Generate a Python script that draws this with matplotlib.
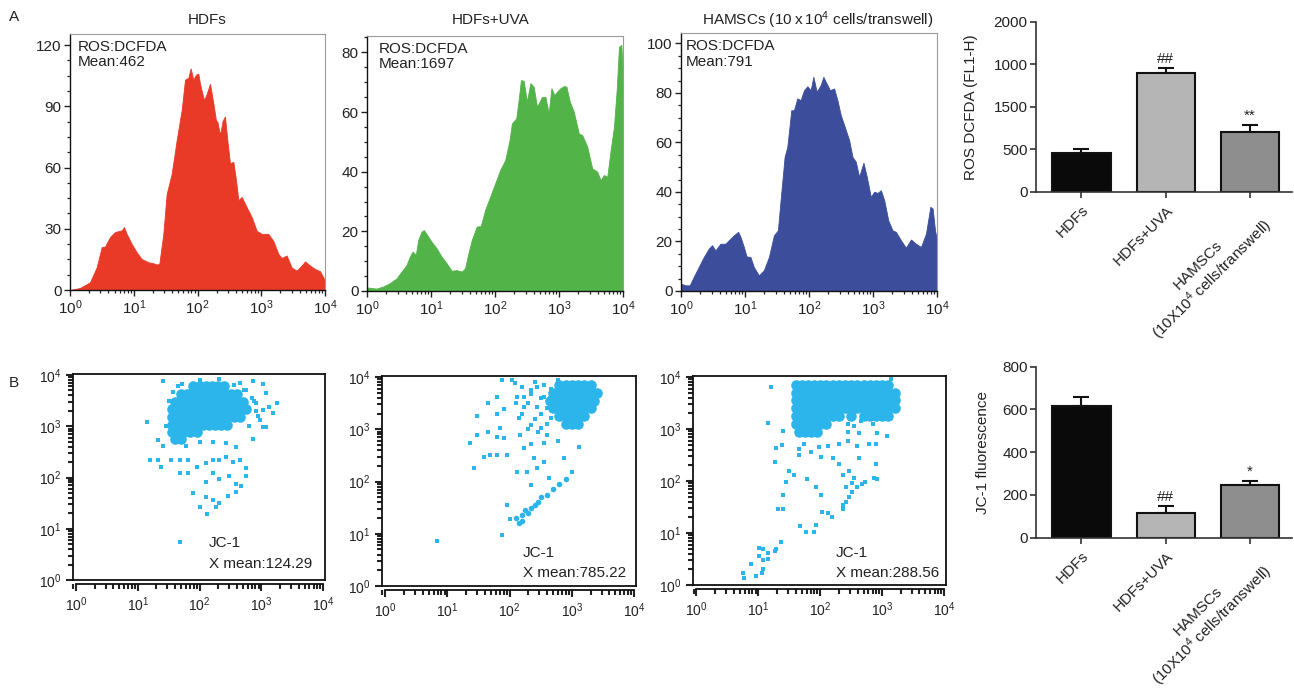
import numpy as np
import matplotlib
matplotlib.use('Agg')
import matplotlib.pyplot as plt
from matplotlib.ticker import (LogLocator, LogFormatterSciNotation, MultipleLocator,
                               NullFormatter, FixedLocator, FixedFormatter)

plt.rcParams['font.family'] = ['Liberation Sans', 'DejaVu Sans']
plt.rcParams['mathtext.fontset'] = 'custom'
plt.rcParams['mathtext.rm'] = 'Liberation Sans'
plt.rcParams['mathtext.it'] = 'Liberation Sans:italic'
plt.rcParams['mathtext.bf'] = 'Liberation Sans:bold'
plt.rcParams['text.color'] = '#222222'
plt.rcParams['xtick.color'] = '#222222'
plt.rcParams['ytick.color'] = '#222222'

# ---------------- DATA ----------------
# Panel A histograms: log10 fluorescence (decades) vs cell count
hdfs_log = [0.0, 0.157, 0.314, 0.418, 0.497, 0.549, 0.627, 0.706, 0.810, 0.847, 0.889, 0.967,
            1.046, 1.124, 1.229, 1.307, 1.359, 1.401, 1.464, 1.516, 1.595, 1.673, 1.752, 1.804,
            1.856, 1.893, 1.935, 1.976, 2.013, 2.039, 2.102, 2.144, 2.196, 2.248, 2.290, 2.311,
            2.353, 2.395, 2.431, 2.468, 2.510, 2.562, 2.604, 2.641, 2.693, 2.771, 2.850, 2.928,
            3.007, 3.111, 3.190, 3.268, 3.320, 3.399, 3.477, 3.556, 3.634, 3.686, 3.765, 3.843,
            3.922, 4.0]
hdfs_cnt = [0, 1.0, 3.8, 11.1, 21.0, 21.3, 25.9, 28.4, 29.2, 30.8, 27.5, 22.6,
            18.5, 15.2, 13.6, 13.1, 12.5, 12.8, 27.5, 47.0, 56.9, 73.4, 88.2, 103,
            104, 108.5, 103, 105.5, 106, 101, 93, 96, 101, 91.5, 83, 82.5,
            76, 83, 85, 73.4, 62, 62.8, 53.8, 44, 45.6, 40.6, 35.7, 29,
            27.5, 27.5, 24, 17.7, 15.7, 16.9, 11, 9.5, 12, 14, 12, 10.3,
            9.2, 4.6]

uva_log = [0.0, 0.146, 0.251, 0.356, 0.460, 0.539, 0.617, 0.669, 0.711, 0.763, 0.800, 0.852,
           0.889, 0.931, 1.009, 1.088, 1.166, 1.244, 1.323, 1.401, 1.480, 1.532, 1.584, 1.637,
           1.715, 1.778, 1.846, 1.924, 2.003, 2.081, 2.159, 2.227, 2.264, 2.332, 2.369, 2.405,
           2.447, 2.499, 2.552, 2.604, 2.656, 2.735, 2.787, 2.839, 2.881, 2.928, 2.970, 3.022,
           3.075, 3.116, 3.169, 3.231, 3.310, 3.362, 3.441, 3.519, 3.597, 3.650, 3.702, 3.754,
           3.807, 3.859, 3.901, 3.937, 3.974, 4.0]
uva_cnt = [1.2, 0.8, 1.5, 2.6, 4.2, 6.5, 8.7, 11.5, 13.2, 12.1, 17.1, 19.9,
           20.4, 19.1, 16.5, 14.3, 11.5, 9.3, 6.8, 7.0, 6.5, 7.6, 12.6, 17.1,
           21.6, 21.8, 27.2, 31.6, 36.1, 40.6, 43.9, 50.6, 56.2, 57.9, 64, 70.7,
           70.5, 63.5, 69.7, 68.5, 61.8, 65.1, 65.1, 59.6, 68, 65.7, 66.8, 68,
           68.7, 68.5, 63.5, 60.1, 52.8, 52.3, 48.4, 41.1, 40, 37.2, 38.9, 38.3,
           47.3, 55.1, 67.4, 81.9, 82.5, 71.8]

hamsc_log = [0.0, 0.068, 0.136, 0.198, 0.277, 0.355, 0.433, 0.486, 0.538, 0.616, 0.695, 0.747,
             0.825, 0.893, 0.930, 0.982, 1.023, 1.086, 1.138, 1.217, 1.295, 1.373, 1.452, 1.514,
             1.556, 1.619, 1.661, 1.723, 1.765, 1.817, 1.869, 1.922, 1.974, 2.026, 2.068, 2.120,
             2.183, 2.225, 2.261, 2.329, 2.392, 2.444, 2.496, 2.559, 2.627, 2.679, 2.731, 2.783,
             2.851, 2.903, 2.966, 3.018, 3.070, 3.123, 3.175, 3.238, 3.305, 3.358, 3.436, 3.514,
             3.593, 3.671, 3.749, 3.828, 3.896, 3.932, 3.969, 4.0]
hamsc_cnt = [3.0, 2.3, 2.3, 5.7, 9.7, 13.7, 17.1, 18.5, 16.4, 19.1, 19.1, 20.5,
             22.5, 23.9, 21.8, 17.8, 14.0, 13.7, 9.7, 6.3, 8.4, 13.7, 22.5, 24.5,
             36.7, 54.2, 58.2, 73, 73, 77.8, 77.1, 81.1, 82.7, 81.1, 86.5, 80.5,
             83.2, 86.5, 84.5, 81.1, 81.8, 77.1, 71, 66.3, 60.9, 54.2, 52.2, 46.1,
             51.8, 46.1, 38, 40.1, 39.6, 40.7, 36.7, 28.6, 24.5, 23.9, 20.5, 17.5,
             20.8, 19.1, 17.8, 23.2, 34, 33.3, 24.5, 20.5]

hist_titles = ['HDFs', 'HDFs+UVA', 'HAMSCs (10\u2009x\u200910$^4$ cells/transwell)']
hist_means = ['Mean:462', 'Mean:1697', 'Mean:791']

# Bar charts
groups = ['HDFs', 'HDFs+UVA', 'HAMSCs\n(10X10$^4$ cells/transwell)']
ros_mean = [451, 1400, 706]
ros_err = [49, 51, 78]
ros_sig = ['', '##', '**']
ros_yticks = [0, 500, 1000, 1500, 2000]
ros_ytick_labels = ['0', '500', '1500', '1000', '2000']
jc1_mean = [616, 117, 245]
jc1_err = [41, 31, 20]
jc1_sig = ['', '##', '*']
jc1_yticks = [0, 200, 400, 600, 800]

# Panel B scatter plots (log10 x, log10 y). Dense cores given as rows {log y: [log x ...]}
b1_dense = {3.78: [1.9, 2.0, 2.1, 2.2, 2.3, 2.4],
            3.63: [1.7, 1.8, 1.9, 2.0, 2.1, 2.2, 2.3, 2.4, 2.5, 2.6],
            3.48: [1.6, 1.7, 1.8, 1.9, 2.0, 2.1, 2.2, 2.3, 2.4, 2.5, 2.6, 2.7],
            3.33: [1.55, 1.65, 1.75, 1.85, 1.95, 2.05, 2.15, 2.25, 2.35, 2.45, 2.55, 2.65, 2.75],
            3.18: [1.55, 1.65, 1.75, 1.85, 1.95, 2.05, 2.15, 2.25, 2.35, 2.45, 2.55, 2.65],
            3.03: [1.55, 1.65, 1.75, 1.85, 1.95, 2.05, 2.15, 2.25, 2.35, 2.45],
            2.88: [1.55, 1.65, 1.75, 1.85, 1.95],
            2.75: [1.6, 1.7]}
b1_sparse_x = [1.41, 1.14, 1.33, 1.41, 1.19, 1.33, 1.38, 1.54, 1.68, 1.81, 1.68, 1.81, 1.95, 2.11,
               2.22, 2.32, 2.43, 2.54, 2.65, 2.75, 2.75, 2.59, 2.48, 2.32, 2.11, 2.22, 1.89, 2.11,
               2.22, 2.32, 2.27, 2.46, 2.59, 2.67, 2.12, 1.68, 2.00, 1.78, 2.00, 2.22, 2.43, 2.59,
               2.86, 2.97, 3.08, 3.02, 3.18, 3.26, 3.08, 2.86, 3.02, 2.75, 3.12, 2.91, 3.02, 1.72,
               1.57, 2.00, 2.32, 2.85, 2.95, 2.65, 2.8, 1.5, 1.45, 2.88, 2.92, 1.65, 2.55, 2.72]
b1_sparse_y = [3.89, 3.09, 2.73, 2.61, 2.35, 2.34, 2.20, 2.34, 2.35, 2.35, 2.08, 2.08, 2.20, 2.28,
               2.34, 2.34, 2.41, 2.31, 2.34, 2.18, 2.02, 1.87, 2.02, 1.98, 1.92, 2.08, 1.70, 1.61,
               1.56, 1.50, 1.43, 1.63, 1.72, 1.83, 1.29, 0.75, 1.43, 2.61, 2.70, 2.70, 2.67, 2.60,
               2.76, 3.12, 2.99, 3.32, 3.25, 3.46, 3.64, 3.89, 3.82, 3.71, 3.38, 3.45, 2.99, 3.82,
               3.67, 3.90, 3.93, 3.55, 3.2, 3.85, 3.0, 3.5, 3.0, 3.5, 3.3, 3.78, 3.8, 3.7]

b2_dense = {3.85: [2.8, 2.9, 3.0, 3.1, 3.2, 3.3],
            3.7: [2.7, 2.8, 2.9, 3.0, 3.1, 3.2, 3.3, 3.4],
            3.55: [2.65, 2.75, 2.85, 2.95, 3.05, 3.15, 3.25, 3.35],
            3.4: [2.7, 2.8, 2.9, 3.0, 3.1, 3.2, 3.3],
            3.25: [2.8, 2.9, 3.0, 3.1, 3.2],
            3.1: [2.9, 3.0, 3.1]}
b2_tail_x = [2.1, 2.2, 2.25, 2.35, 2.45, 2.5, 2.6, 2.7, 2.8, 2.9, 2.2, 2.3, 2.4, 2.15]
b2_tail_y = [1.3, 1.35, 1.45, 1.5, 1.6, 1.7, 1.75, 1.85, 1.95, 2.05, 1.25, 1.4, 1.55, 1.2]
b2_sparse_x = [0.83, 1.88, 2.01, 1.96, 1.43, 1.59, 1.36, 1.48, 1.65, 1.80, 1.91, 1.85, 1.79, 1.91,
               1.66, 1.80, 1.88, 2.04, 2.09, 1.48, 1.80, 1.69, 1.96, 2.12, 2.28, 2.39, 2.55, 2.63,
               2.87, 3.0, 3.11, 2.34, 2.44, 2.23, 2.34, 2.55, 2.77, 2.15, 2.23, 2.34, 2.44, 2.55,
               2.66, 2.34, 2.50, 2.66, 2.44, 2.23, 2.12, 2.17, 2.60, 2.77, 3.36, 3.38, 3.14,
               2.2, 2.3, 2.4, 2.5, 2.6, 2.2, 2.4, 2.5, 2.65, 2.3, 2.45, 2.6, 2.1, 2.35, 2.55]
b2_sparse_y = [0.86, 0.97, 1.29, 1.55, 2.25, 2.46, 2.74, 2.89, 2.95, 2.85, 2.83, 3.02, 3.29, 3.39,
               3.50, 3.62, 3.95, 3.95, 3.88, 3.26, 2.51, 2.51, 2.51, 2.19, 2.19, 2.45, 2.38, 2.06,
               2.45, 2.19, 2.67, 1.93, 2.25, 2.64, 2.71, 2.74, 2.77, 3.22, 3.42, 3.68, 3.81, 3.61,
               3.77, 3.09, 3.03, 3.22, 3.42, 3.61, 3.61, 2.90, 2.90, 3.94, 3.81, 3.55, 3.09,
               3.3, 3.5, 3.2, 3.6, 3.4, 3.8, 3.9, 3.3, 3.6, 3.0, 2.95, 3.1, 3.5, 3.75, 3.85]

b3_dense = {3.85: [1.6, 1.7, 1.8, 1.9, 2.0, 2.1, 2.2, 2.3, 2.4, 2.5, 2.6, 2.7, 2.8, 2.9, 3.0, 3.1],
            3.7: [1.6, 1.7, 1.8, 1.9, 2.0, 2.1, 2.2, 2.3, 2.4, 2.5, 2.6, 2.7, 2.8, 2.9, 3.0, 3.1, 3.2],
            3.55: [1.6, 1.7, 1.8, 1.9, 2.0, 2.1, 2.2, 2.3, 2.4, 2.5, 2.6, 2.7, 2.8, 2.9, 3.0, 3.1, 3.2],
            3.4: [1.6, 1.7, 1.8, 1.9, 2.0, 2.1, 2.2, 2.3, 2.4, 2.5, 2.6, 2.7, 2.8, 2.9, 3.0, 3.1, 3.2],
            3.25: [1.6, 1.7, 1.8, 1.9, 2.0, 2.1, 2.2, 2.3, 2.5, 2.7, 2.8, 2.9, 3.0, 3.1],
            3.1: [1.6, 1.7, 1.8, 1.9, 2.0, 2.1],
            2.95: [1.65, 1.75, 1.85, 1.95]}
b3_sparse_x = [1.20, 1.15, 1.28, 1.27, 1.39, 1.40, 1.50, 1.58, 1.44, 1.40, 1.32, 1.40, 1.67, 1.77,
               1.90, 1.93, 1.36, 1.28, 1.27, 1.15, 1.15, 1.07, 1.01, 1.08, 1.06, 0.97, 0.88, 0.77,
               0.75, 1.01, 1.08, 1.79, 1.93, 2.01, 2.02, 2.12, 2.19, 1.85, 1.98, 2.12, 2.20, 2.01,
               2.30, 2.36, 2.37, 2.36, 2.41, 2.47, 2.52, 2.60, 2.67, 2.73, 2.55, 2.63, 2.47, 2.44,
               2.60, 2.79, 2.90, 2.92, 2.90, 2.87, 2.92, 2.52, 2.41, 2.30, 2.44, 2.63, 3.08, 3.15,
               1.66, 1.74, 1.65, 2.45, 2.55, 2.65, 2.85, 3.0]
b3_sparse_y = [3.80, 3.11, 2.64, 2.37, 2.69, 2.96, 2.19, 2.11, 1.98, 1.73, 1.47, 1.47, 1.14, 1.02,
               1.02, 1.15, 0.82, 0.70, 0.65, 0.61, 0.50, 0.49, 0.55, 0.31, 0.24, 0.18, 0.41, 0.13,
               0.23, 0.72, 0.70, 2.04, 1.89, 1.73, 1.40, 1.39, 1.31, 2.56, 2.66, 2.68, 2.45, 2.46,
               2.32, 2.12, 1.53, 1.47, 1.60, 1.70, 1.79, 1.89, 1.94, 1.98, 2.06, 2.45, 2.19, 2.77,
               2.68, 2.71, 2.71, 2.92, 2.32, 2.06, 2.04, 1.96, 1.89, 2.71, 2.94, 2.92, 2.87, 3.96,
               2.61, 2.72, 2.51, 3.1, 3.05, 3.15, 3.1, 3.2]

scatter_means = ['X mean:124.29', 'X mean:785.22', 'X mean:288.56']

# ---------------- FIGURE ----------------
W, H = 1294, 696
fig = plt.figure(figsize=(W / 100, H / 100), dpi=100)


def px_axes(l, t, r, b):
    return fig.add_axes([l / W, 1 - b / H, (r - l) / W, (b - t) / H])


FS = 11
hist_boxes = [(70, 34, 325, 290), (367, 36, 623, 291), (681, 33, 937, 291)]
hist_colors = ['#e93a28', '#52b448', '#3c4d9b']
hist_ylim = [125.4, 85.5, 104.2]
hist_major = [30, 20, 20]
hist_minor = [7.5, 5, 5]
hist_text_x = [0.03, 0.047, 0.02]
hist_title_pos = [(207, 20), (491, 20), (818, 20)]
hist_data = [(hdfs_log, hdfs_cnt), (uva_log, uva_cnt), (hamsc_log, hamsc_cnt)]

for i in range(3):
    ax = px_axes(*hist_boxes[i])
    lg, cnt = hist_data[i]
    ax.fill_between(10 ** np.array(lg), cnt, 0, color=hist_colors[i], lw=0.6,
                    edgecolor=hist_colors[i])
    ax.set_xscale('log')
    ax.set_xlim(1, 1e4)
    ax.set_ylim(0, hist_ylim[i])
    ax.xaxis.set_major_locator(LogLocator(base=10, numticks=10))
    ax.xaxis.set_major_formatter(LogFormatterSciNotation())
    ax.xaxis.set_minor_locator(LogLocator(base=10, subs=np.arange(2, 10), numticks=20))
    ax.xaxis.set_minor_formatter(NullFormatter())
    ax.yaxis.set_major_locator(MultipleLocator(hist_major[i]))
    ax.yaxis.set_minor_locator(MultipleLocator(hist_minor[i]))
    ax.tick_params(which='major', length=4, width=1.0, labelsize=FS, pad=2)
    ax.tick_params(which='minor', length=2.2, width=0.9)
    for s in ['left', 'bottom']:
        ax.spines[s].set_color('#111111')
        ax.spines[s].set_linewidth(1.0)
    for s in ['top', 'right']:
        ax.spines[s].set_color('#9a9a9a')
        ax.spines[s].set_linewidth(0.8)
    ax.text(hist_text_x[i], 0.975, 'ROS:DCFDA\n' + hist_means[i], transform=ax.transAxes,
            ha='left', va='top', fontsize=FS, linespacing=1.1)
    tx, ty = hist_title_pos[i]
    fig.text(tx / W, 1 - ty / H, hist_titles[i], ha='center', va='center', fontsize=FS)

# Scatter plots
scat_boxes = [(72.7, 374, 325, 580), (381.7, 376, 636, 586), (693, 376, 946, 585)]
scat_text_x = [0.54, 0.556, 0.565]
scat_text_y = [(0.18, 0.078), (0.157, 0.062), (0.153, 0.057)]
scat_dense = [b1_dense, b2_dense, b3_dense]
scat_sparse = [(b1_sparse_x, b1_sparse_y), (b2_sparse_x, b2_sparse_y), (b3_sparse_x, b3_sparse_y)]
SC = '#2cb5ea'

for i in range(3):
    ax = px_axes(*scat_boxes[i])
    dx, dy = [], []
    for yv, xs in scat_dense[i].items():
        dx += xs
        dy += [yv] * len(xs)
    ax.scatter(10 ** np.array(dx), 10 ** np.array(dy), s=58, color=SC, lw=0, marker='o')
    if i == 1:
        ax.scatter(10 ** np.array(b2_tail_x), 10 ** np.array(b2_tail_y), s=16, color=SC, lw=0)
    sx, sy = scat_sparse[i]
    ax.scatter(10 ** np.array(sx), 10 ** np.array(sy), s=5, color=SC, lw=0, marker='s')
    ax.set_xscale('log')
    ax.set_yscale('log')
    ax.set_xlim(10 ** -0.055, 10 ** 4.03)
    ax.set_ylim(1, 10 ** 4.02)
    for a in (ax.xaxis, ax.yaxis):
        a.set_major_locator(LogLocator(base=10, numticks=10))
        a.set_major_formatter(LogFormatterSciNotation())
        a.set_minor_locator(LogLocator(base=10, subs=np.arange(2, 10), numticks=20))
        a.set_minor_formatter(NullFormatter())
    for s in ax.spines.values():
        s.set_linewidth(1.3)
        s.set_color('#111111')
    ax.spines['bottom'].set_position(('outward', 3))
    ax.spines['bottom'].set_bounds(1, 1e4)
    ax.plot([0, 1], [0, 0], transform=ax.transAxes, color='#111111', lw=1.3, clip_on=False)
    ax.tick_params(which='major', length=5, width=1.5, labelsize=10, pad=3)
    ax.tick_params(which='minor', length=3.5, width=1.5)
    ax.text(scat_text_x[i], scat_text_y[i][0], 'JC-1', transform=ax.transAxes,
            ha='left', va='center', fontsize=FS)
    ax.text(scat_text_x[i], scat_text_y[i][1], scatter_means[i], transform=ax.transAxes,
            ha='left', va='center', fontsize=FS)

# Bar charts
bar_colors = ['#0a0a0a', '#b5b5b5', '#8e8e8e']


def bar_chart(box, means, errs, sigs, yticks, ylabels, ylabel, ylabel_x):
    ax = px_axes(*box)
    x = np.arange(len(groups))
    ax.bar(x, means, width=0.69, color=bar_colors, edgecolor='#111111', linewidth=1.5, zorder=2)
    ax.errorbar(x, means, yerr=[np.zeros(len(errs)), errs], fmt='none', ecolor='#111111',
                elinewidth=1.5, capsize=6, capthick=1.5, zorder=1)
    top = yticks[-1]
    for xi, m, e, s in zip(x, means, errs, sigs):
        if s:
            ax.text(xi, m + e + top * 0.015, s, ha='center', va='bottom', fontsize=FS)
    ax.set_xlim(-0.54, 2.5)
    ax.set_ylim(0, top)
    ax.yaxis.set_major_locator(FixedLocator(yticks))
    ax.yaxis.set_major_formatter(FixedFormatter(ylabels))
    ax.set_xticks(x)
    ax.set_xticklabels(groups, rotation=45, ha='right', va='top', rotation_mode='anchor',
                       multialignment='center', fontsize=FS)
    for s in ['top', 'right']:
        ax.spines[s].set_visible(False)
    for s in ['left', 'bottom']:
        ax.spines[s].set_linewidth(1.2)
        ax.spines[s].set_color('#333333')
    ax.tick_params(length=4, width=1.1, labelsize=FS, pad=2)
    ax.tick_params(axis='x', pad=4)
    fig.text(ylabel_x / W, 1 - (box[1] + box[3]) / 2 / H, ylabel, rotation=90,
             ha='center', va='center', fontsize=FS)
    return ax


bar_chart((1036, 21.7, 1292, 191.7), ros_mean, ros_err, ros_sig, ros_yticks, ros_ytick_labels,
          'ROS DCFDA (FL1-H)', 971)
bar_chart((1036, 366.7, 1292, 537.7), jc1_mean, jc1_err, jc1_sig, jc1_yticks,
          [str(v) for v in jc1_yticks], 'JC-1 fluorescence', 983)

fig.text(14 / W, 1 - 17 / H, 'A', ha='center', va='center', fontsize=11)
fig.text(14 / W, 1 - 383 / H, 'B', ha='center', va='center', fontsize=11)

fig.savefig('out.png', dpi=100)
